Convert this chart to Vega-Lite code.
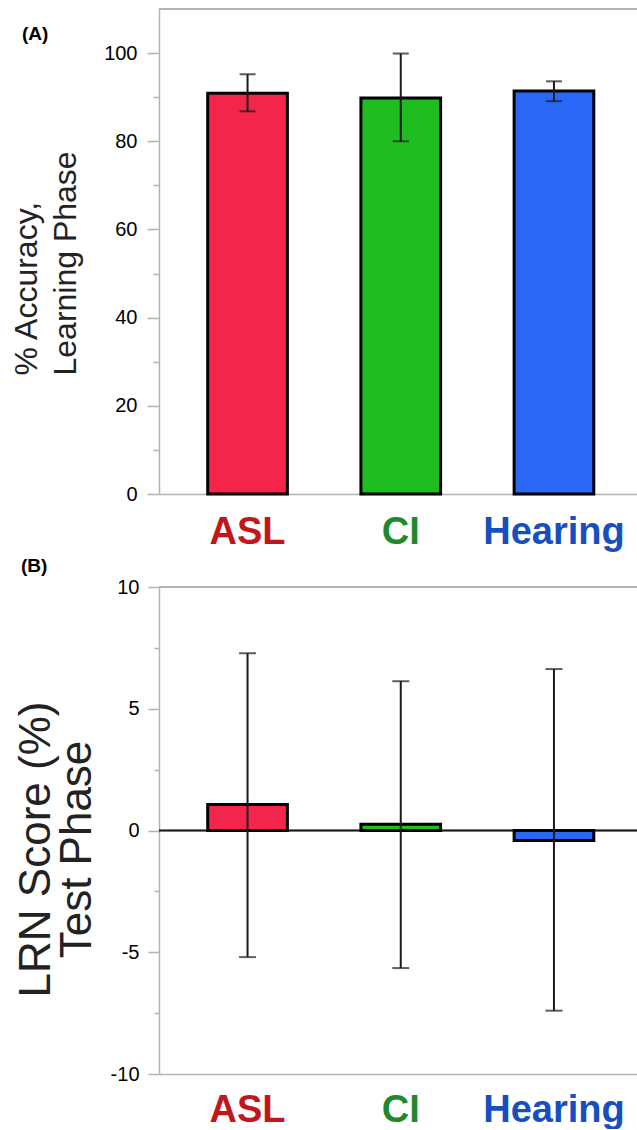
{
  "$schema": "https://vega.github.io/schema/vega-lite/v6.json",
  "background": "white",
  "padding": {"left": 10, "top": 8, "right": 0, "bottom": 0},
  "datasets": {
    "learning": [
      {"group": "ASL", "mean": 90.9, "lo": 86.8, "hi": 95.2},
      {"group": "CI", "mean": 89.8, "lo": 80.0, "hi": 99.9},
      {"group": "Hearing", "mean": 91.4, "lo": 89.1, "hi": 93.6}
    ],
    "test": [
      {"group": "ASL", "mean": 1.07, "lo": -5.2, "hi": 7.28},
      {"group": "CI", "mean": 0.26, "lo": -5.65, "hi": 6.13},
      {"group": "Hearing", "mean": -0.41, "lo": -7.4, "hi": 6.63}
    ]
  },
  "config": {
    "view": {"stroke": null},
    "axis": {"grid": false, "labelFont": "Liberation Sans", "titleFont": "Liberation Sans"}
  },
  "vconcat": [
    {
      "width": 478,
      "height": 485,
      "data": {"name": "learning"},
      "title": {"text": "(A)", "anchor": "start", "frame": "group", "dx": -137, "offset": -36, "fontSize": 19, "fontWeight": "bold", "font": "Liberation Sans", "color": "black"},
      "layer": [
        {
          "mark": {"type": "rule", "color": "#b3b3b3", "strokeWidth": 1.5},
          "encoding": {"y": {"datum": 110, "type": "quantitative", "scale": {"domain": [0, 110], "nice": false}, "title": ["% Accuracy,", "Learning Phase"]}}
        },
        {
          "mark": {"type": "bar", "stroke": "black", "strokeWidth": 3},
          "encoding": {
            "x": {
              "field": "group", "type": "nominal", "sort": null,
              "scale": {"paddingInner": 0.48, "paddingOuter": 0.3, "align": 0.53},
              "axis": {
                "title": null, "labelAngle": 0, "ticks": false, "tickSize": 0,
                "domainColor": "#b3b3b3", "domainWidth": 1.5,
                "labelFontSize": 38, "labelFontWeight": "bold", "labelPadding": 19, "labelBaseline": "top",
                "labelColor": {"condition": [{"test": "datum.value === 'ASL'", "value": "#c3161c"}, {"test": "datum.value === 'CI'", "value": "#1f8a2b"}], "value": "#1650bf"}
              }
            },
            "y": {
              "field": "mean", "type": "quantitative",
              "scale": {"domain": [0, 110], "nice": false},
              "title": ["% Accuracy,", "Learning Phase"],
              "axis": {
                "values": [0, 10, 20, 30, 40, 50, 60, 70, 80, 90, 100],
                "labelExpr": "datum.value % 20 === 0 ? '' + datum.value : ''",
                "tickSize": {"condition": {"test": "datum.value % 20 === 0", "value": 12}, "value": 6},
                "tickColor": "#b3b3b3", "tickWidth": 1.5,
                "domainColor": "#b3b3b3", "domainWidth": 1.5,
                "labelFontSize": 20, "labelPadding": 10, "labelColor": "black",
                "labelFlush": false, "labelOverlap": false,
                "titleFontSize": 32, "titleFontWeight": "normal", "titleColor": "#222222",
                "titleLineHeight": 39, "titleX": -116, "titleY": 366, "titleAlign": "left"
              }
            },
            "fill": {"field": "group", "type": "nominal", "scale": {"domain": ["ASL", "CI", "Hearing"], "range": ["#f4254b", "#1fbd1f", "#2b67f6"]}, "legend": null}
          }
        },
        {
          "mark": {"type": "errorbar", "ticks": {"size": 16, "thickness": 2, "color": "#1a1a1a"}, "rule": {"strokeWidth": 2, "color": "#1a1a1a"}},
          "encoding": {
            "x": {"field": "group", "type": "nominal", "sort": null},
            "y": {"field": "lo", "type": "quantitative", "title": ["% Accuracy,", "Learning Phase"]},
            "y2": {"field": "hi"}
          }
        }
      ]
    },
    {
      "width": 478,
      "height": 487,
      "data": {"name": "test"},
      "title": {"text": "(B)", "anchor": "start", "frame": "group", "dx": -138, "offset": 1, "fontSize": 19, "fontWeight": "bold", "font": "Liberation Sans", "color": "black"},
      "layer": [
        {
          "mark": {"type": "rule", "color": "#b3b3b3", "strokeWidth": 1.5},
          "encoding": {"y": {"datum": 10, "type": "quantitative", "scale": {"domain": [-10, 10], "nice": false}, "title": ["LRN Score (%)", "Test Phase"]}}
        },
        {
          "mark": {"type": "rule", "color": "#1a1a1a", "strokeWidth": 1.5},
          "encoding": {"y": {"datum": 0, "type": "quantitative", "title": ["LRN Score (%)", "Test Phase"]}}
        },
        {
          "mark": {"type": "bar", "stroke": "black", "strokeWidth": 3},
          "encoding": {
            "x": {
              "field": "group", "type": "nominal", "sort": null,
              "scale": {"paddingInner": 0.48, "paddingOuter": 0.3, "align": 0.53},
              "axis": {
                "title": null, "labelAngle": 0, "ticks": false, "tickSize": 0,
                "domainColor": "#b3b3b3", "domainWidth": 1.5,
                "labelFontSize": 38, "labelFontWeight": "bold", "labelPadding": 17, "labelBaseline": "top",
                "labelColor": {"condition": [{"test": "datum.value === 'ASL'", "value": "#c3161c"}, {"test": "datum.value === 'CI'", "value": "#1f8a2b"}], "value": "#1650bf"}
              }
            },
            "y": {
              "field": "mean", "type": "quantitative",
              "scale": {"domain": [-10, 10], "nice": false},
              "title": ["LRN Score (%)", "Test Phase"],
              "axis": {
                "values": [-10, -7.5, -5, -2.5, 0, 2.5, 5, 7.5, 10],
                "labelExpr": "datum.value % 5 === 0 ? '' + datum.value : ''",
                "tickSize": {"condition": {"test": "datum.value % 5 === 0", "value": 11}, "value": 5},
                "tickColor": "#b3b3b3", "tickWidth": 1.5,
                "domainColor": "#b3b3b3", "domainWidth": 1.5,
                "labelFontSize": 20, "labelPadding": 9, "labelColor": "black",
                "labelFlush": false, "labelOverlap": false,
                "titleFontSize": 44, "titleFontWeight": "normal", "titleColor": "#222222",
                "titleLineHeight": 41, "titleX": -101, "titleY": 262
              }
            },
            "fill": {"field": "group", "type": "nominal", "scale": {"domain": ["ASL", "CI", "Hearing"], "range": ["#f4254b", "#1fbd1f", "#2b67f6"]}, "legend": null}
          }
        },
        {
          "mark": {"type": "errorbar", "ticks": {"size": 17, "thickness": 2, "color": "#1a1a1a"}, "rule": {"strokeWidth": 2, "color": "#1a1a1a"}},
          "encoding": {
            "x": {"field": "group", "type": "nominal", "sort": null},
            "y": {"field": "lo", "type": "quantitative", "title": ["LRN Score (%)", "Test Phase"]},
            "y2": {"field": "hi"}
          }
        }
      ]
    }
  ],
  "spacing": 93,
  "bounds": "flush"
}
